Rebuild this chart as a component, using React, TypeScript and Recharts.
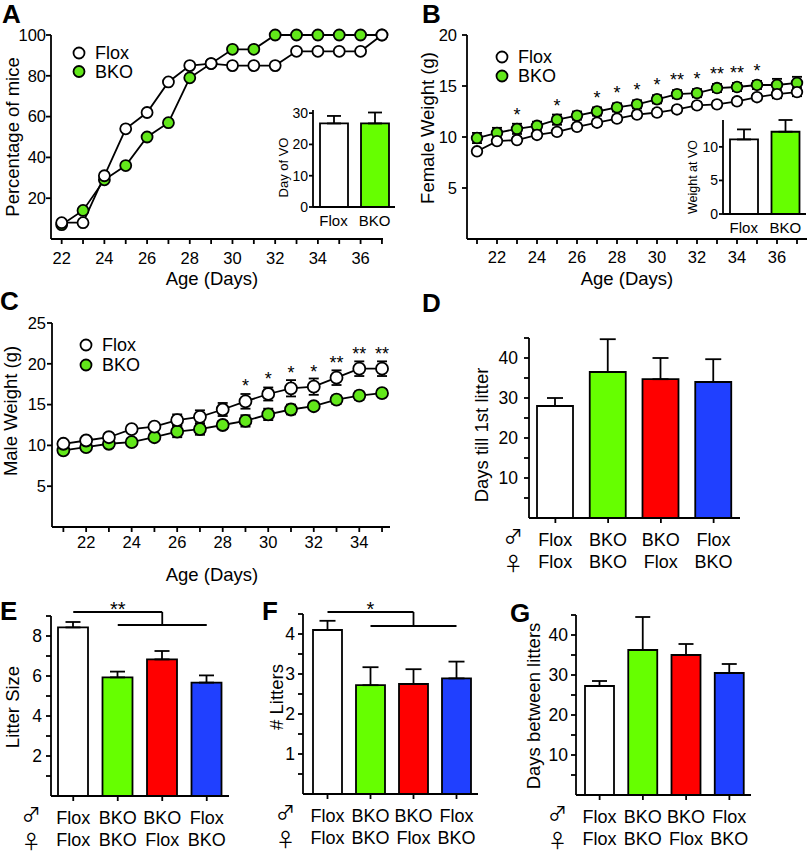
import React from "react";
import {
  LineChart,
  Line,
  BarChart,
  Bar,
  Cell,
  XAxis,
  YAxis,
  ErrorBar,
  LabelList,
  Label,
  ReferenceLine,
} from "recharts";

const FONT = "'Liberation Sans', Arial, sans-serif";
const SYM = "'Noto Sans CJK JP', 'DejaVu Sans', sans-serif";
const INK = "#000";
const DOT_GREEN = "#62e81a";
const BAR_GREEN = "#66ff00";

// A: onset of vaginal opening (% of mice)
const daysA = [22, 23, 24, 25, 26, 27, 28, 29, 30, 31, 32, 33, 34, 35, 36, 37];
const floxVO = [8, 8, 31, 54, 62, 77, 85, 86, 85, 85, 85, 92, 92, 92, 92, 100];
const bkoVO = [7, 14, 29, 36, 50, 57, 79, 86, 93, 93, 100, 100, 100, 100, 100, 100];
const insetGroups = ["Flox", "BKO"];
const dayOfVO = [26.7, 26.7];
const dayOfVOErr = [2.4, 3.5];

// B: female weight
const daysB = [21, 22, 23, 24, 25, 26, 27, 28, 29, 30, 31, 32, 33, 34, 35, 36, 37];
const floxFemale = [8.6, 9.6, 9.7, 10.2, 10.5, 11.0, 11.4, 11.8, 12.2, 12.4, 12.7, 13.1, 13.2, 13.5, 13.9, 14.2, 14.4];
const floxFemaleErr = [0.2, 0.3, 0.3, 0.3, 0.3, 0.3, 0.3, 0.3, 0.3, 0.3, 0.3, 0.3, 0.3, 0.3, 0.3, 0.4, 0.4];
const bkoFemale = [9.9, 10.4, 10.8, 11.1, 11.7, 12.1, 12.5, 12.9, 13.2, 13.7, 14.2, 14.3, 14.8, 14.9, 15.1, 15.1, 15.3];
const bkoFemaleErr = [0.5, 0.5, 0.5, 0.4, 0.5, 0.4, 0.4, 0.4, 0.4, 0.4, 0.4, 0.4, 0.4, 0.4, 0.4, 0.6, 0.6];
const sigFemale = ["", "", "*", "", "*", "", "*", "*", "*", "*", "**", "*", "**", "**", "*", "", ""];
const weightAtVO = [11.1, 12.25];
const weightAtVOErr = [1.5, 1.75];

// C: male weight
const daysC = [21, 22, 23, 24, 25, 26, 27, 28, 29, 30, 31, 32, 33, 34, 35];
const floxMale = [10.2, 10.6, 11.0, 12.0, 12.3, 13.1, 13.5, 14.4, 15.4, 16.3, 17.0, 17.2, 18.3, 19.4, 19.4];
const floxMaleErr = [0.3, 0.4, 0.4, 0.3, 0.3, 0.7, 0.8, 0.8, 0.9, 0.8, 1.0, 1.0, 0.9, 0.9, 0.9];
const bkoMale = [9.4, 9.8, 10.2, 10.4, 11.0, 11.7, 12.0, 12.5, 13.0, 13.8, 14.4, 14.8, 15.6, 16.1, 16.4];
const bkoMaleErr = [0.3, 0.3, 0.3, 0.3, 0.3, 0.7, 0.7, 0.5, 0.7, 0.7, 0.6, 0.4, 0.5, 0.5, 0.5];
const sigMale = ["", "", "", "", "", "", "", "", "*", "*", "*", "*", "**", "**", "**"];

// D-G: breeding pairs (male x female)
const maleGeno = ["Flox", "BKO", "BKO", "Flox"];
const femaleGeno = ["Flox", "BKO", "Flox", "BKO"];
const pairFills = ["#ffffff", BAR_GREEN, "#ff0000", "#2040ff"];
const firstLitter = [28, 36.5, 34.7, 34];
const firstLitterErr = [2, 8.2, 5.3, 5.7];
const litterSize = [8.43, 5.93, 6.83, 5.67];
const litterSizeErr = [0.27, 0.29, 0.42, 0.36];
const litterCount = [4.1, 2.72, 2.75, 2.89];
const litterCountErr = [0.23, 0.45, 0.37, 0.42];
const betweenLitters = [27.25, 36.25, 35, 30.5];
const betweenLittersErr = [1.25, 8.25, 2.75, 2.25];

const pairKeys = maleGeno.map((m, i) => `${m}/${femaleGeno[i]}`);

type Box = { x0: number; y0: number; x1: number; y1: number };

const LEFT_ROOM = 70;
const TOP_ROOM = 30;
const RIGHT_ROOM = 12;
const BOTTOM_ROOM = 62;
const MARGIN = { top: TOP_ROOM, right: RIGHT_ROOM, bottom: 0, left: 0 };
const axisInk = { stroke: INK, strokeWidth: 1.8 };

function frameOf(b: Box) {
  return {
    style: { position: "absolute" as const, left: b.x0 - LEFT_ROOM, top: b.y0 - TOP_ROOM },
    width: b.x1 - b.x0 + LEFT_ROOM + RIGHT_ROOM,
    height: b.y1 - b.y0 + TOP_ROOM + BOTTOM_ROOM,
  };
}

function yTitle(text: string, dist: number, shift: number, size = 18.5) {
  return (props: any) => {
    const vb = props.viewBox;
    if (!vb) return null;
    const cx = vb.x + vb.width - dist;
    const cy = vb.y + vb.height / 2 + shift;
    return (
      <text
        x={cx}
        y={cy}
        transform={`rotate(-90, ${cx}, ${cy})`}
        textAnchor="middle"
        dominantBaseline="central"
        fontSize={size}
        fontFamily={FONT}
        fill={INK}
      >
        {text}
      </text>
    );
  };
}

function xTitle(text: string, dist: number, shift: number) {
  return (props: any) => {
    const vb = props.viewBox;
    if (!vb) return null;
    return (
      <text
        x={vb.x + vb.width / 2 + shift}
        y={vb.y + dist}
        textAnchor="middle"
        dominantBaseline="central"
        fontSize={18.5}
        fontFamily={FONT}
        fill={INK}
      >
        {text}
      </text>
    );
  };
}

function starAbove(lift: number) {
  return (props: any) => {
    if (!props.value) return null;
    const vb = props.viewBox ?? props;
    const x = (vb.x ?? props.x) + (vb.width ?? 0) / 2;
    const y = vb.y ?? props.y;
    return (
      <text x={x} y={y - lift} textAnchor="middle" fontSize={18} fontFamily={FONT} fill={INK}>
        {props.value}
      </text>
    );
  };
}

const evenLabel = (v: number) => (v % 2 === 0 ? String(v) : "");

type CourseProps = {
  box: Box;
  days: number[];
  flox: number[];
  bko: number[];
  floxErr?: number[];
  bkoErr?: number[];
  sig?: string[];
  sigOn?: "flox" | "bko";
  sigLift?: number;
  xDomain: [number, number];
  yDomain: [number, number];
  yTicks: number[];
  title: string;
  titleDist: number;
  titleShift: number;
  xTitleDist: number;
  xTitleShift: number;
  yTickMargin: number;
  xTickMargin: number;
  dotR: number;
};

function TimeCourse(p: CourseProps) {
  const f = frameOf(p.box);
  const rows = p.days.map((day, i) => ({
    day,
    flox: p.flox[i],
    bko: p.bko[i],
    floxE: p.floxErr ? p.floxErr[i] : 0,
    bkoE: p.bkoErr ? p.bkoErr[i] : 0,
    sig: p.sig ? p.sig[i] : "",
  }));
  const dot = (fill: string) => ({ r: p.dotR, fill, stroke: INK, strokeWidth: 1.8 });
  return (
    <div style={f.style}>
      <LineChart width={f.width} height={f.height} data={rows} margin={MARGIN}>
        <XAxis
          dataKey="day"
          type="number"
          domain={p.xDomain}
          ticks={p.days}
          interval={0}
          tickFormatter={evenLabel}
          height={BOTTOM_ROOM}
          axisLine={axisInk}
          tickLine={axisInk}
          tickSize={5}
          tickMargin={p.xTickMargin}
          tick={{ fill: INK, fontSize: 16.5, fontFamily: FONT }}
        >
          <Label content={xTitle("Age (Days)", p.xTitleDist, p.xTitleShift)} />
        </XAxis>
        <YAxis
          type="number"
          domain={p.yDomain}
          ticks={p.yTicks}
          interval={0}
          width={LEFT_ROOM}
          axisLine={axisInk}
          tickLine={axisInk}
          tickSize={5}
          tickMargin={p.yTickMargin}
          tick={{ fill: INK, fontSize: 16.5, fontFamily: FONT }}
        >
          <Label content={yTitle(p.title, p.titleDist, p.titleShift)} />
        </YAxis>
        <Line
          dataKey="bko"
          stroke={INK}
          strokeWidth={1.8}
          dot={dot(DOT_GREEN)}
          activeDot={false}
          isAnimationActive={false}
        >
          {p.bkoErr && (
            <ErrorBar dataKey="bkoE" width={5} stroke={INK} strokeWidth={1.8} direction="y" isAnimationActive={false} />
          )}
          {p.sigOn === "bko" && <LabelList dataKey="sig" content={starAbove(p.sigLift ?? 8)} />}
        </Line>
        <Line
          dataKey="flox"
          stroke={INK}
          strokeWidth={1.8}
          dot={dot("#ffffff")}
          activeDot={false}
          isAnimationActive={false}
        >
          {p.floxErr && (
            <ErrorBar dataKey="floxE" width={5} stroke={INK} strokeWidth={1.8} direction="y" isAnimationActive={false} />
          )}
          {p.sigOn === "flox" && <LabelList dataKey="sig" content={starAbove(p.sigLift ?? 8)} />}
        </Line>
      </LineChart>
    </div>
  );
}

function PairTick(props: any) {
  const { x, y, payload } = props;
  const [male, female] = String(payload.value).split("/");
  const first = payload.value === pairKeys[0];
  return (
    <g>
      <text x={x} y={y + 21} textAnchor="middle" fontSize={18} fontFamily={FONT} fill={INK}>
        {male}
      </text>
      <text x={x} y={y + 43} textAnchor="middle" fontSize={18} fontFamily={FONT} fill={INK}>
        {female}
      </text>
      {first && (
        <text x={x - 42} y={y + 19} textAnchor="middle" fontSize={19} fontFamily={SYM} fill={INK}>
          ♂
        </text>
      )}
      {first && (
        <text x={x - 42} y={y + 46} textAnchor="middle" fontSize={19} fontFamily={SYM} fill={INK}>
          ♀
        </text>
      )}
    </g>
  );
}

type Bracket = { top: number; low: number; mark: string };

type PairProps = {
  box: Box;
  values: number[];
  errs: number[];
  yDomain: [number, number];
  yTicks: number[];
  yFormat: (v: number) => string;
  title: string;
  titleDist: number;
  titleShift: number;
  barSize: number;
  capW: number;
  padLeft: number;
  tickMargin: number;
  bracket?: Bracket;
};

function PairBars(p: PairProps) {
  const f = frameOf(p.box);
  const rows = pairKeys.map((key, i) => ({ key, v: p.values[i], e: [0, p.errs[i]] }));
  const b = p.bracket;
  return (
    <div style={f.style}>
      <BarChart width={f.width} height={f.height} data={rows} margin={MARGIN} barCategoryGap={0}>
        <XAxis
          dataKey="key"
          type="category"
          interval={0}
          height={BOTTOM_ROOM}
          padding={{ left: p.padLeft, right: 0 }}
          axisLine={axisInk}
          tickLine={axisInk}
          tickSize={5}
          tickMargin={2}
          tick={<PairTick />}
        />
        <YAxis
          type="number"
          domain={p.yDomain}
          ticks={p.yTicks}
          interval={0}
          tickFormatter={p.yFormat}
          width={LEFT_ROOM}
          axisLine={axisInk}
          tickLine={axisInk}
          tickSize={5}
          tickMargin={p.tickMargin}
          tick={{ fill: INK, fontSize: 17.5, fontFamily: FONT }}
        >
          <Label content={yTitle(p.title, p.titleDist, p.titleShift)} />
        </YAxis>
        <Bar dataKey="v" barSize={p.barSize} stroke={INK} strokeWidth={1.8} isAnimationActive={false}>
          {rows.map((r, i) => (
            <Cell key={r.key} fill={pairFills[i]} />
          ))}
          <ErrorBar dataKey="e" width={p.capW} stroke={INK} strokeWidth={1.8} direction="y" isAnimationActive={false} />
        </Bar>
        {b && (
          <ReferenceLine
            segment={[
              { x: pairKeys[0], y: b.top },
              { x: pairKeys[2], y: b.top },
            ]}
            stroke={INK}
            strokeWidth={1.8}
            ifOverflow="visible"
            label={(lp: any) => {
              const vb = lp.viewBox;
              if (!vb) return null;
              return (
                <text x={vb.x + vb.width / 2} y={vb.y + 4} textAnchor="middle" fontSize={20} fontFamily={FONT} fill={INK}>
                  {b.mark}
                </text>
              );
            }}
          />
        )}
        {b && (
          <ReferenceLine
            segment={[
              { x: pairKeys[2], y: b.top },
              { x: pairKeys[2], y: b.low },
            ]}
            stroke={INK}
            strokeWidth={1.8}
            ifOverflow="visible"
          />
        )}
        {b && (
          <ReferenceLine
            segment={[
              { x: pairKeys[1], y: b.low },
              { x: pairKeys[3], y: b.low },
            ]}
            stroke={INK}
            strokeWidth={1.8}
            ifOverflow="visible"
          />
        )}
      </BarChart>
    </div>
  );
}

type InsetProps = {
  box: Box;
  values: number[];
  errs: number[];
  yDomain: [number, number];
  yTicks: number[];
  title: string;
  titleSize: number;
  titleDist: number;
  titleShift: number;
};

function InsetBars(p: InsetProps) {
  const f = frameOf(p.box);
  const rows = insetGroups.map((g, i) => ({ g, v: p.values[i], e: [0, p.errs[i]] }));
  const fills = ["#ffffff", BAR_GREEN];
  return (
    <div style={f.style}>
      <BarChart width={f.width} height={f.height} data={rows} margin={MARGIN} barCategoryGap={0}>
        <XAxis
          dataKey="g"
          type="category"
          interval={0}
          height={BOTTOM_ROOM}
          axisLine={axisInk}
          tickLine={false}
          tickSize={6}
          tickMargin={2}
          tick={{ fill: INK, fontSize: 15, fontFamily: FONT }}
        />
        <YAxis
          type="number"
          domain={p.yDomain}
          ticks={p.yTicks}
          interval={0}
          width={LEFT_ROOM}
          axisLine={axisInk}
          tickLine={axisInk}
          tickSize={4}
          tickMargin={1}
          tick={{ fill: INK, fontSize: 14, fontFamily: FONT }}
        >
          <Label content={yTitle(p.title, p.titleDist, p.titleShift, p.titleSize)} />
        </YAxis>
        <Bar dataKey="v" barSize={28} stroke={INK} strokeWidth={1.8} isAnimationActive={false}>
          {rows.map((r, i) => (
            <Cell key={r.g} fill={fills[i]} />
          ))}
          <ErrorBar dataKey="e" width={7} stroke={INK} strokeWidth={1.8} direction="y" isAnimationActive={false} />
        </Bar>
      </BarChart>
    </div>
  );
}

const legendRows = [
  { name: "Flox", fill: "#ffffff" },
  { name: "BKO", fill: DOT_GREEN },
];

function Key({ x, y, gap }: { x: number; y: number; gap: number }) {
  return (
    <g>
      {legendRows.map((r, i) => (
        <g key={r.name}>
          <circle cx={x} cy={y + i * gap} r={5.5} fill={r.fill} stroke={INK} strokeWidth={1.8} />
          <text x={x + 16} y={y + i * gap} dominantBaseline="central" fontSize={18} fontFamily={FONT} fill={INK}>
            {r.name}
          </text>
        </g>
      ))}
    </g>
  );
}

const panelLetters = [
  { t: "A", x: 2, y: 23 },
  { t: "B", x: 422, y: 23 },
  { t: "C", x: 0, y: 310 },
  { t: "D", x: 422, y: 312 },
  { t: "E", x: 0, y: 620 },
  { t: "F", x: 262, y: 620 },
  { t: "G", x: 510, y: 622 },
];

export default function App() {
  return (
    <div style={{ position: "absolute", left: 0, top: 0, width: 810, height: 855, background: "#fff", overflow: "hidden" }}>
      <TimeCourse
        box={{ x0: 51, y0: 35, x1: 383, y1: 239 }}
        days={daysA}
        flox={floxVO}
        bko={bkoVO}
        xDomain={[21.5, 37.05]}
        yDomain={[0, 100]}
        yTicks={[20, 40, 60, 80, 100]}
        title="Percentage of mice"
        titleDist={39}
        titleShift={0}
        xTitleDist={39}
        xTitleShift={-5}
        yTickMargin={0}
        xTickMargin={8}
        dotR={5.5}
      />
      <TimeCourse
        box={{ x0: 467, y0: 35, x1: 807, y1: 239 }}
        days={daysB}
        flox={floxFemale}
        bko={bkoFemale}
        floxErr={floxFemaleErr}
        bkoErr={bkoFemaleErr}
        sig={sigFemale}
        sigOn="bko"
        sigLift={8}
        xDomain={[20.5, 37.5]}
        yDomain={[0, 20]}
        yTicks={[5, 10, 15, 20]}
        title="Female Weight (g)"
        titleDist={40}
        titleShift={-9}
        xTitleDist={39}
        xTitleShift={-10}
        yTickMargin={5}
        xTickMargin={7}
        dotR={5.3}
      />
      <TimeCourse
        box={{ x0: 52, y0: 323, x1: 390, y1: 527 }}
        days={daysC}
        flox={floxMale}
        bko={bkoMale}
        floxErr={floxMaleErr}
        bkoErr={bkoMaleErr}
        sig={sigMale}
        sigOn="flox"
        sigLift={9}
        xDomain={[20.5, 35.35]}
        yDomain={[0, 25]}
        yTicks={[5, 10, 15, 20, 25]}
        title="Male Weight (g)"
        titleDist={42}
        titleShift={-14}
        xTitleDist={47}
        xTitleShift={-9}
        yTickMargin={1}
        xTickMargin={4}
        dotR={6}
      />
      <InsetBars
        box={{ x0: 313, y0: 110, x1: 395, y1: 207 }}
        values={dayOfVO}
        errs={dayOfVOErr}
        yDomain={[0, 31]}
        yTicks={[0, 10, 20, 30]}
        title="Day of VO"
        titleSize={13}
        titleDist={30}
        titleShift={9}
      />
      <InsetBars
        box={{ x0: 723, y0: 120, x1: 806, y1: 214 }}
        values={weightAtVO}
        errs={weightAtVOErr}
        yDomain={[0, 14]}
        yTicks={[0, 5, 10]}
        title="Weight at VO"
        titleSize={12.5}
        titleDist={30}
        titleShift={10}
      />
      <PairBars
        box={{ x0: 529, y0: 338, x1: 740, y1: 518 }}
        values={firstLitter}
        errs={firstLitterErr}
        yDomain={[0, 45]}
        yTicks={[5, 10, 15, 20, 25, 30, 35, 40, 45]}
        yFormat={(v) => (v % 10 === 0 ? String(v) : "")}
        title="Days till 1st litter"
        titleDist={48}
        titleShift={7}
        barSize={36}
        capW={8}
        padLeft={0}
        tickMargin={6}
      />
      <PairBars
        box={{ x0: 51, y0: 616, x1: 229, y1: 796 }}
        values={litterSize}
        errs={litterSizeErr}
        yDomain={[0, 9]}
        yTicks={[1, 2, 3, 4, 5, 6, 7, 8, 9]}
        yFormat={(v) => (v % 2 === 0 ? String(v) : "")}
        title="Litter Size"
        titleDist={39}
        titleShift={1}
        barSize={30}
        capW={7.5}
        padLeft={0}
        tickMargin={4}
        bracket={{ top: 9.2, low: 8.55, mark: "**" }}
      />
      <PairBars
        box={{ x0: 303, y0: 614, x1: 478, y1: 794 }}
        values={litterCount}
        errs={litterCountErr}
        yDomain={[0, 4.5]}
        yTicks={[0.5, 1, 1.5, 2, 2.5, 3, 3.5, 4, 4.5]}
        yFormat={(v) => (Number.isInteger(v) ? String(v) : "")}
        title="# Litters"
        titleDist={27}
        titleShift={-7}
        barSize={29}
        capW={8}
        padLeft={3}
        tickMargin={3}
        bracket={{ top: 4.55, low: 4.2, mark: "*" }}
      />
      <PairBars
        box={{ x0: 576, y0: 615, x1: 751, y1: 795 }}
        values={betweenLitters}
        errs={betweenLittersErr}
        yDomain={[0, 45]}
        yTicks={[5, 10, 15, 20, 25, 30, 35, 40, 45]}
        yFormat={(v) => (v % 10 === 0 ? String(v) : "")}
        title="Days between litters"
        titleDist={43}
        titleShift={1}
        barSize={29}
        capW={7.5}
        padLeft={2}
        tickMargin={3}
      />
      <svg
        width={810}
        height={855}
        style={{ position: "absolute", left: 0, top: 0, pointerEvents: "none" }}
      >
        <Key x={79} y={53} gap={18.5} />
        <Key x={502} y={57} gap={19} />
        <Key x={86} y={345} gap={20} />
        {panelLetters.map((l) => (
          <text key={l.t} x={l.x} y={l.y} fontSize={26} fontWeight="bold" fontFamily={FONT} fill={INK}>
            {l.t}
          </text>
        ))}
      </svg>
    </div>
  );
}
